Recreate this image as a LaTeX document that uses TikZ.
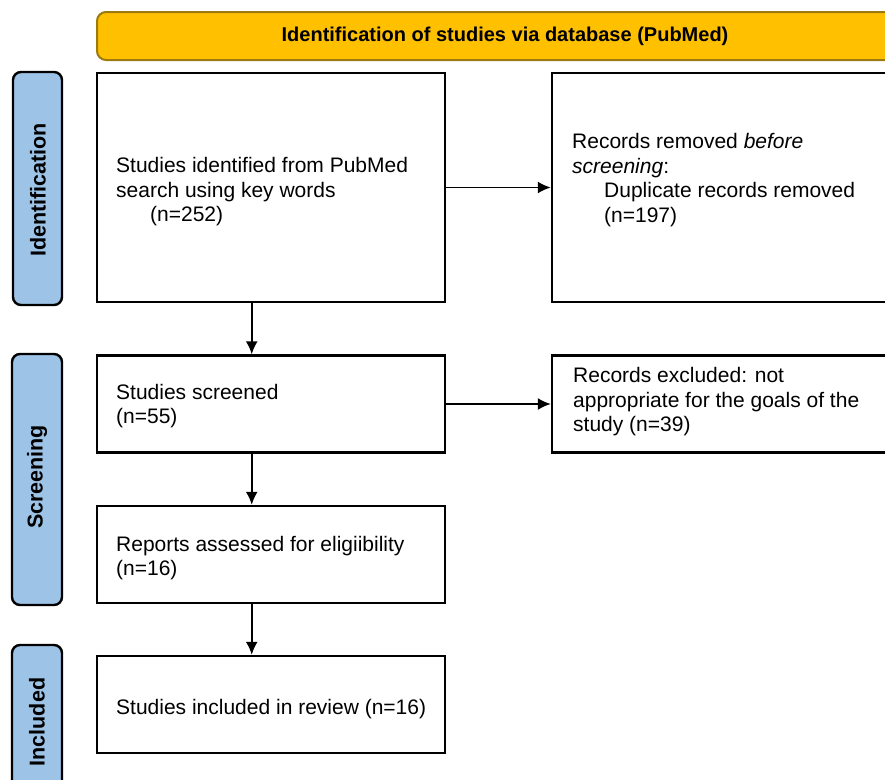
\documentclass[tikz,border=0pt]{standalone}
\usepackage{fontspec}
\setmainfont{Liberation Sans}
\usetikzlibrary{arrows.meta,calc}
\definecolor{bannerfill}{HTML}{FFC000}
\definecolor{bannerdraw}{HTML}{9C7A10}
\definecolor{phasefill}{HTML}{9DC3E6}
\begin{document}
\begin{tikzpicture}[x=1pt,y=-1pt,
  box/.style={draw=black,line width=2.4pt,fill=white,rectangle,inner sep=0pt},
  txt/.style={anchor=west,align=left,font=\fontsize{21}{24.5}\selectfont,inner sep=0pt},
  phasebox/.style={draw=black,line width=2.4pt,fill=phasefill,rounded corners=8pt,inner sep=0pt},
  phasetxt/.style={font=\fontsize{21.5}{24}\selectfont\bfseries,rotate=90,inner sep=0pt},
  bannerbox/.style={draw=bannerdraw,line width=2pt,fill=bannerfill,rounded corners=9pt,inner sep=0pt,font=\fontsize{20}{24}\selectfont\bfseries},
  arr/.style={line width=1.8pt,-{Latex[length=13pt,width=12pt]}}]
\useasboundingbox (0,0) rectangle (885,779);
\fill[white] (0,0) rectangle (885,779);
\clip (0,0) rectangle (885,779);

% banner
\node[bannerbox,minimum width=816pt,minimum height=48pt] (ban) at (505,36) {Identification of studies via database (PubMed)};

% phase labels
\node[phasebox,minimum width=49pt,minimum height=233pt] (p1) at (37.5,188.5) {};
\node[phasetxt] (p1t) at (38,190) {Identification};
\node[phasebox,minimum width=50pt,minimum height=251pt] (p2) at (37,479.5) {};
\node[phasetxt] (p2t) at (37,477) {Screening};
\node[phasebox,minimum width=50pt,minimum height=154pt] (p3) at (37,722) {};
\node[phasetxt] (p3t) at (p3.center) {Included};

% boxes
\node[box,minimum width=348pt,minimum height=229pt] (b1) at (271,187.5) {};
\node[box,minimum width=348pt,minimum height=229pt] (b2) at (726,187.5) {};
\node[box,minimum width=348pt,minimum height=97pt] (b3) at (271,404) {};
\node[box,minimum width=348pt,minimum height=97pt] (b4) at (726,404) {};
\node[box,minimum width=348pt,minimum height=97pt] (b5) at (271,554.5) {};
\node[box,minimum width=348pt,minimum height=97pt] (b6) at (271,704.5) {};

% texts
\node[txt] (t1) at (116,192) {Studies identified from PubMed\\search using key words\\\hspace*{34pt}(n=252)};
\node[txt] (t2) at (572,180) {Records removed \textit{before}\\\textit{screening}:\\\hspace*{32pt}Duplicate records removed\\\hspace*{32pt}(n=197)};
\node[txt] (t3) at (116,406) {Studies screened\\(n=55)};
\node[txt] (t4) at (573,402) {Records excluded: not\\appropriate for the goals of the\\study (n=39)};
\node[txt] (t5) at (116,558) {Reports assessed for eligiibility\\(n=16)};
\node[txt] (t6) at (116,709) {Studies included in review (n=16)};

% connectors
\draw[arr] (b1) -- (b2);
\draw[arr] (b3) -- (b4);
\draw[arr] ($(b1.south west)!0.445!(b1.south east)$) -- ($(b3.north west)!0.445!(b3.north east)$);
\draw[arr] ($(b3.south west)!0.445!(b3.south east)$) -- ($(b5.north west)!0.445!(b5.north east)$);
\draw[arr] ($(b5.south west)!0.445!(b5.south east)$) -- ($(b6.north west)!0.445!(b6.north east)$);
\end{tikzpicture}
\end{document}
